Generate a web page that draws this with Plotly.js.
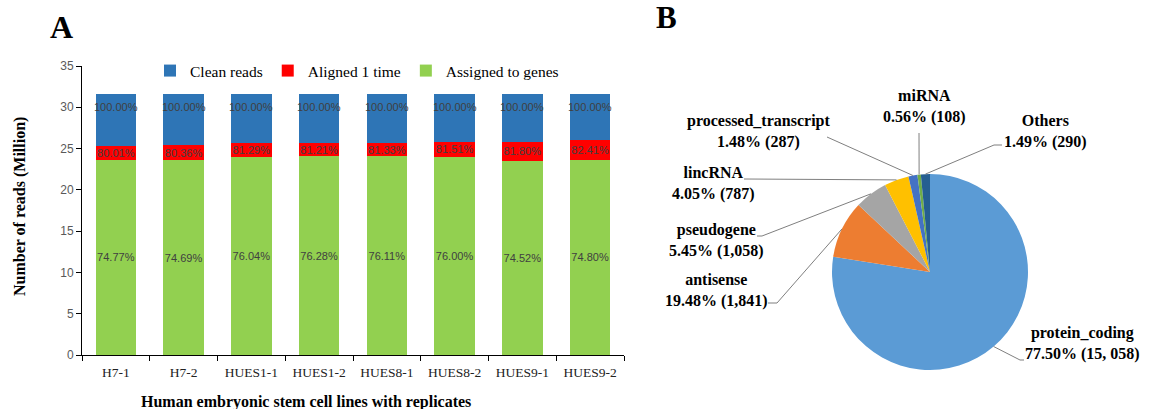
<!DOCTYPE html>
<html><head><meta charset="utf-8">
<script src="https://cdn.plot.ly/plotly-3.0.1.min.js"></script>
<style>html,body{margin:0;padding:0;background:#fff}#chart{width:1153px;height:409px}</style>
</head><body><div id="chart"></div>
<script>
// ---- Panel A data (millions of reads) ----
var samples = ['H7-1','H7-2','HUES1-1','HUES1-2','HUES8-1','HUES8-2','HUES9-1','HUES9-2'];
var cleanReads = [31.6,31.6,31.6,31.6,31.6,31.6,31.6,31.6];
var alignedReads = [25.28,25.39,25.69,25.66,25.70,25.76,25.85,26.04];
var assignedReads = [23.63,23.60,24.03,24.10,24.05,24.02,23.55,23.64];
var cleanLabels = ['100.00%','100.00%','100.00%','100.00%','100.00%','100.00%','100.00%','100.00%'];
var alignedLabels = ['80.01%','80.36%','81.29%','81.21%','81.33%','81.51%','81.80%','82.41%'];
var assignedLabels = ['74.77%','74.69%','76.04%','76.28%','76.11%','76.00%','74.52%','74.80%'];

// ---- Panel B data (gene counts) ----
var geneTypes = ['protein_coding','antisense','pseudogene','lincRNA','processed_transcript','miRNA','Others'];
var geneCounts = [15058,1841,1058,787,287,108,290];
var geneLabels = ['protein_coding<br>77.50% (15, 058)','antisense<br>19.48% (1,841)','pseudogene<br>5.45% (1,058)',
  'lincRNA<br>4.05% (787)','processed_transcript<br>1.48% (287)','miRNA<br>0.56% (108)','Others<br>1.49% (290)'];
var geneColors = ['#5B9BD5','#ED7D31','#A5A5A5','#FFC000','#4472C4','#70AD47','#255E91'];

var W = 1153, H = 409;
function px(x){return x/W;} function py(y){return 1 - y/H;}

var sub = function(a,b){return a.map(function(v,i){return v-b[i];});};
var barText = {family:'Liberation Sans, Arial, sans-serif', size:11, color:'#404040'};
var common = {type:'bar', x:samples, textposition:'inside', constraintext:'none', textangle:0,
  insidetextfont:barText, hoverinfo:'x+y', cliponaxis:false};

var tGreen = Object.assign({}, common, {name:'Assigned to genes', y:assignedReads, text:assignedLabels,
  insidetextanchor:'middle', marker:{color:'#92D050'}, legendrank:3});
var tRed = Object.assign({}, common, {name:'Aligned 1 time', y:sub(alignedReads, assignedReads), text:alignedLabels,
  insidetextanchor:'middle', marker:{color:'#FF0000'}, legendrank:2});
var tBlue = Object.assign({}, common, {name:'Clean reads', y:sub(cleanReads, alignedReads),
  textposition:'none', marker:{color:'#2E75B6'}, legendrank:1});

var annotations = [];
samples.forEach(function(s,i){
  annotations.push({xref:'x', yref:'y', x:s, y:cleanReads[i], yshift:-13, text:cleanLabels[i], showarrow:false,
    xanchor:'center', yanchor:'middle', font:barText});
});

// pie geometry (px)
var pcx = 930, pcy = 272, pr = 98;
var pie = {type:'pie', values:geneCounts, labels:geneTypes, sort:false, direction:'clockwise', rotation:0,
  marker:{colors:geneColors, line:{width:0}}, textinfo:'none', showlegend:false, hoverinfo:'label+value',
  domain:{x:[px(pcx-pr), px(pcx+pr)], y:[py(pcy+pr), py(pcy-pr)]}};

// label positions (layout) and leader line start/elbow points (px)
var labelPos = [[1082,343.5],[716,290],[716,240],[713.5,183.5],[758,131.5],[924.5,106.5],[1045,131.5]];
var leaderStart = [[[1024,360],[1020,360]], [[768,303],[777,303]], [[757,236],[762,236]], [[744,179]],
  [[827,137]], [[919,133]], [[1002,145],[994,145]]];

var total = geneCounts.reduce(function(a,b){return a+b;},0);
var cum = 0, shapes = [];
var serifB = {family:'Liberation Serif, Times New Roman, serif', size:16, color:'#000'};
geneCounts.forEach(function(v,i){
  var mid = (cum + v/2)/total * 2*Math.PI; cum += v;
  var tip = [pcx + pr*Math.sin(mid), pcy - pr*Math.cos(mid)];
  var pts = leaderStart[i].concat([tip]);
  for (var k=0;k<pts.length-1;k++){
    shapes.push({type:'line', xref:'paper', yref:'paper', x0:px(pts[k][0]), y0:py(pts[k][1]),
      x1:px(pts[k+1][0]), y1:py(pts[k+1][1]), line:{color:'#7F7F7F', width:1}});
  }
  annotations.push({xref:'paper', yref:'paper', x:px(labelPos[i][0]), y:py(labelPos[i][1]), text:'<b>'+geneLabels[i]+'</b>',
    showarrow:false, xanchor:'center', yanchor:'middle', align:'center', font:serifB});
});

var serif = 'Liberation Serif, Times New Roman, serif';
annotations.push({xref:'paper', yref:'paper', x:px(61), y:py(27), text:'<b>A</b>', showarrow:false,
  xanchor:'center', yanchor:'middle', font:{family:serif, size:32, color:'#000'}});
annotations.push({xref:'paper', yref:'paper', x:px(666), y:py(17), text:'<b>B</b>', showarrow:false,
  xanchor:'center', yanchor:'middle', font:{family:serif, size:31, color:'#000'}});
annotations.push({xref:'paper', yref:'paper', x:px(306), y:py(402), text:'<b>Human embryonic stem cell lines with replicates</b>',
  showarrow:false, xanchor:'center', yanchor:'middle', font:{family:serif, size:16, color:'#000'}});
annotations.push({xref:'paper', yref:'paper', x:px(20), y:py(207), text:'<b>Number of reads (Million)</b>', textangle:-90,
  showarrow:false, xanchor:'center', yanchor:'middle', font:{family:serif, size:16, color:'#000'}});

var layout = {
  width:W, height:H, margin:{l:0,r:0,t:0,b:0}, paper_bgcolor:'#fff', plot_bgcolor:'#fff',
  barmode:'stack', bargap:0.4,
  xaxis:{domain:[px(82), px(624)], showline:true, linecolor:'#000', linewidth:1, ticks:'outside', ticklen:5,
    tickcolor:'#000', tickson:'boundaries', ticklabelstandoff:5,
    tickfont:{family:serif, size:13.5, color:'#222'}, fixedrange:true},
  yaxis:{domain:[py(355), py(66)], range:[0,35], dtick:5, showline:true, linecolor:'#000', linewidth:1,
    ticks:'outside', ticklen:5, tickcolor:'#000', showgrid:false, zeroline:false,
    tickfont:{family:'Liberation Sans, Arial, sans-serif', size:12, color:'#595959'}, fixedrange:true},
  legend:{orientation:'h', x:px(150), xanchor:'left', y:py(71), yanchor:'middle', traceorder:'normal',
    font:{family:serif, size:15.5, color:'#000'}, bgcolor:'rgba(0,0,0,0)'},
  shapes:shapes, annotations:annotations, showlegend:true
};

Plotly.newPlot('chart', [tGreen, tRed, tBlue, pie], layout, {displayModeBar:false, staticPlot:true});
</script></body></html>
